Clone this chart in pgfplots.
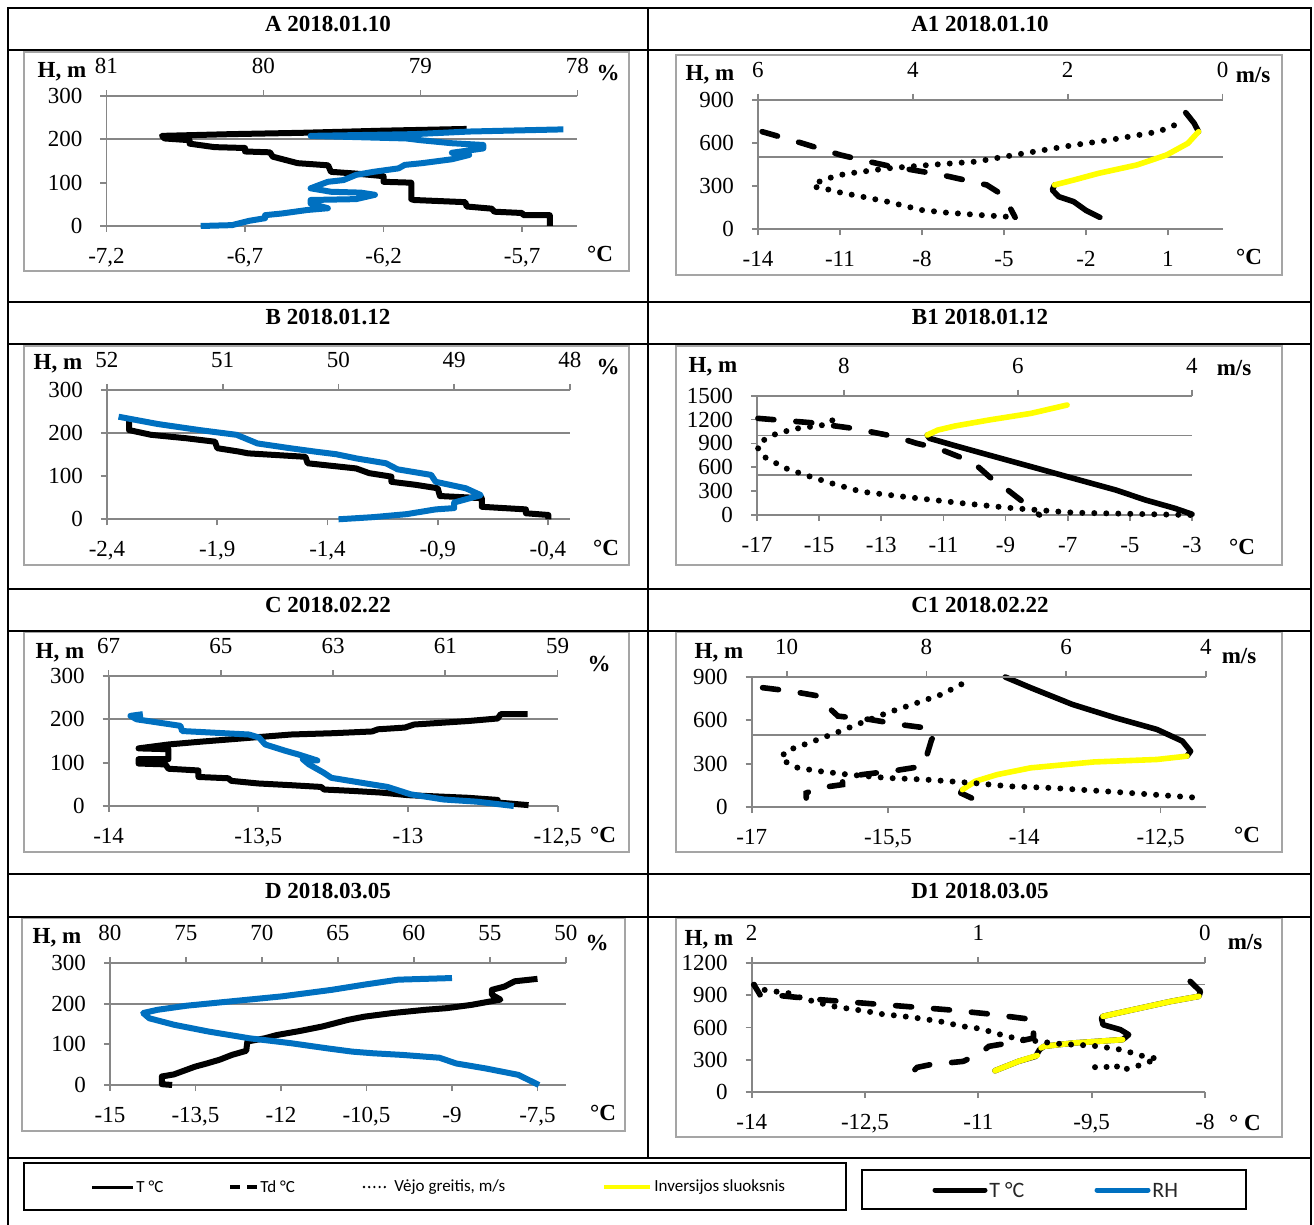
\documentclass[border=0pt]{standalone}
\usepackage{pgfplots}
\pgfplotsset{compat=1.18}
\usepackage{fontspec}
\setmainfont{Liberation Serif}
\newfontfamily\legfont{Carlito}
\definecolor{gcol}{RGB}{134,134,134}
\definecolor{fcol}{RGB}{165,165,165}
\definecolor{rhblue}{RGB}{0,112,192}
\definecolor{invy}{RGB}{255,255,0}
\pgfplotsset{
  pbase/.style={scale only axis, clip=false, anchor=south west,
    axis line style={gcol, line width=0.9pt},
    major tick style={gcol, line width=0.9pt},
    major tick length=3pt, tick align=outside,
    tick label style={font=\fontsize{11.5}{11.5}\selectfont, text=black},
    /pgf/number format/assume math mode=true,
    /pgf/number format/use comma,
    /pgf/number format/1000 sep={},
    /pgf/number format/fixed,
    scaled ticks=false,
    xticklabel shift=4.5pt, yticklabel shift=5.5pt,
  },
  pbot/.style={pbase, axis x line*=bottom, axis y line*=left},
  ptop/.style={pbase, axis x line*=top, hide y axis, ytick=\empty, x dir=reverse},
  tline/.style={black, line width=3pt, line join=round},
  rhline/.style={rhblue, line width=3pt, line join=round},
  sline/.style={black, line width=2.8pt, line join=round, line cap=round},
  dline/.style={black, line width=2.8pt, line cap=round, dash pattern=on 8pt off 11pt},
  wline/.style={black, line width=3pt, line cap=round, dash pattern=on 0pt off 6pt},
  yline/.style={invy, line width=2.8pt, line join=round, line cap=round},
  gridat/.style={extra y ticks={#1}, extra y tick labels={}, extra y tick style={grid=major, major grid style={gcol,line width=0.9pt}, major tick length=0pt}},
}
\begin{document}
\begin{tikzpicture}
\begin{scope}[x=0.5pt,y=-0.5pt]
\useasboundingbox (0,0) rectangle (1314,1225);
% chart frames
\draw[fcol, line width=1.2pt] (24,52) rectangle (629,271);
\draw[fcol, line width=1.2pt] (676,55) rectangle (1282,275);
\draw[fcol, line width=1.2pt] (24,346) rectangle (629,565);
\draw[fcol, line width=1.2pt] (676,346) rectangle (1282,565);
\draw[fcol, line width=1.2pt] (24,632) rectangle (629,852);
\draw[fcol, line width=1.2pt] (676,632) rectangle (1282,852);
\draw[fcol, line width=1.2pt] (22,918) rectangle (625,1131);
\draw[fcol, line width=1.2pt] (676,918) rectangle (1282,1137);
% table
\draw[black, line width=0.9pt] (8,1225) -- (8,8) -- (1311,8) -- (1311,1225);
\foreach \yy in {50,302,344,589,631,874,917,1158} {\draw[black, line width=0.9pt] (8,\yy) -- (1311,\yy);}
\draw[black, line width=0.9pt] (648,8) -- (648,1158);
% titles
\tikzset{ttl/.style={font=\bfseries\fontsize{11.5}{12}\selectfont}, lab/.style={font=\bfseries\fontsize{11.5}{12}\selectfont, inner sep=0pt}}
\node[ttl] at (328,24) {A 2018.01.10};
\node[ttl] at (980,24) {A1 2018.01.10};
\node[ttl] at (328,317) {B 2018.01.12};
\node[ttl] at (980,317) {B1 2018.01.12};
\node[ttl] at (328,605) {C 2018.02.22};
\node[ttl] at (980,605) {C1 2018.02.22};
\node[ttl] at (328,891) {D 2018.03.05};
\node[ttl] at (980,891) {D1 2018.03.05};
% axis name labels
\node[lab] at (62,72) {H, m};  \node[lab] at (608,73) {\%};   \node[lab] at (600,254) {°C};
\node[lab] at (710,75) {H, m}; \node[lab] at (1253,75) {m/s}; \node[lab] at (1249,257) {°C};
\node[lab] at (58,364) {H, m}; \node[lab] at (608,367) {\%};  \node[lab] at (606,548) {°C};
\node[lab] at (713,367) {H, m}; \node[lab] at (1234,368) {m/s}; \node[lab] at (1242,547) {°C};
\node[lab] at (60,653) {H, m}; \node[lab] at (599,664) {\%};  \node[lab] at (603,835) {°C};
\node[lab] at (719,653) {H, m}; \node[lab] at (1239,656) {m/s}; \node[lab] at (1247,835) {°C};
\node[lab] at (57,938) {H, m}; \node[lab] at (597,943) {\%};  \node[lab] at (603,1113) {°C};
\node[lab] at (709,940) {H, m}; \node[lab] at (1245,942) {m/s}; \node[lab] at (1245,1123) {° C};
% ---------------- Legends ----------------
\tikzset{lt/.style={anchor=west, font=\legfont\fontsize{8.5}{9}\selectfont, inner sep=1pt}}
\draw[black, line width=1pt] (24,1163) rectangle (846,1210);
\draw[black, line width=1.5pt] (92,1187) -- (133,1187);
\node[lt] at (134,1187) {T °C};
\draw[black, line width=1.6pt, dash pattern=on 5pt off 3.5pt] (230,1187) -- (257,1187);
\node[lt] at (258,1187) {Td °C};
\draw[black, line width=1.3pt, line cap=round, dash pattern=on 0pt off 2.6pt] (364,1187) -- (390,1187);
\node[lt] at (392,1187) {Vėjo greitis, m/s};
\draw[invy, line width=1.6pt] (604,1187) -- (650,1187);
\node[lt] at (652,1187) {Inversijos sluoksnis};
\draw[black, line width=1pt] (862,1170) rectangle (1246,1209);
\draw[black, line width=2.5pt, line cap=round] (935,1190) -- (985,1190);
\node[anchor=west, font=\legfont\fontsize{11}{12}\selectfont, inner sep=1pt, text=black!85] at (987,1190) {T °C};
\draw[rhblue, line width=2.5pt, line cap=round] (1097,1190) -- (1148,1190);
\node[anchor=west, font=\legfont\fontsize{11}{12}\selectfont, inner sep=1pt, text=black!85] at (1150,1190) {RH};
\end{scope}

% ---------------- Panel A ----------------
\begin{axis}[pbot, at={(53.25pt,-113pt)}, width=235.5pt, height=65pt, xmin=-7.2, xmax=-5.5, ymin=0, ymax=300,
  xtick={-7.2,-6.7,-6.2,-5.7}, ytick={0,100,200,300}, gridat=200]
\addplot[tline] coordinates {(-5.60,0) (-5.60,25) (-5.695,25) (-5.70,30) (-5.80,33) (-5.81,40) (-5.90,45) (-5.905,55) (-6.09,60) (-6.10,62) (-6.10,100) (-6.20,102) (-6.20,115) (-6.30,121) (-6.39,125) (-6.40,140) (-6.51,145) (-6.60,160) (-6.61,170) (-6.70,172) (-6.70,180) (-6.81,182) (-6.90,190) (-6.90,198) (-6.99,202) (-7.00,208) (-6.75,212) (-6.50,215) (-6.20,220) (-5.90,224)};
\end{axis}
\begin{axis}[ptop, at={(53.25pt,-113pt)}, width=235.5pt, height=65pt, xmin=78, xmax=81, ymin=0, ymax=300, xtick={78,79,80,81}]
\addplot[rhline] coordinates {(80.40,0) (80.20,2) (80.09,12) (79.99,18) (79.99,25) (79.88,29) (79.72,37) (79.59,41) (79.70,52) (79.70,60) (79.41,62) (79.29,72) (79.38,77) (79.57,79) (79.70,87) (79.59,102) (79.49,106) (79.41,118) (79.30,125) (79.14,133) (79.10,141) (78.99,145) (78.80,154) (78.69,164) (78.80,169) (78.60,179) (78.60,187) (78.80,191) (79.00,198) (79.09,202) (79.70,208) (79.04,212) (78.69,218) (78.09,223)};
\end{axis}

% ---------------- Panel A1 ----------------
\begin{axis}[pbot, at={(379pt,-114.65pt)}, width=232.3pt, height=64.8pt, xmin=-14, xmax=3, ymin=0, ymax=900,
  xtick={-14,-11,-8,-5,-2,1}, ytick={0,300,600,900}, gridat=500]
\addplot[dline] coordinates {(-13.85,678) (-12.37,597) (-10.98,516) (-10.2,481) (-9.27,442) (-7.26,377) (-5.63,308) (-5.24,261) (-4.93,204) (-4.59,83)};
\addplot[sline] coordinates {(-1.49,83) (-1.99,130) (-2.45,192) (-3.00,227) (-3.23,273) (-3.15,308)};
\addplot[sline] coordinates {(2.12,678) (1.96,736) (1.65,810)};
\addplot[yline] coordinates {(-3.15,308) (-2.45,342) (-1.53,389) (-0.13,447) (0.95,516) (1.73,597) (2.12,678)};
\end{axis}
\begin{axis}[ptop, at={(379pt,-114.65pt)}, width=232.3pt, height=64.8pt, xmin=0, xmax=6, ymin=0, ymax=900, xtick={0,2,4,6}]
\addplot[wline] coordinates {(2.80,88) (3.13,99) (3.57,116) (3.89,134) (4.33,192) (4.66,227) (4.99,261) (5.15,285) (5.29,296) (5.18,342) (4.88,384) (4.33,423) (3.78,447) (3.18,470) (2.69,516) (1.92,585) (1.46,620) (0.83,678) (0.56,736)};
\end{axis}

% ---------------- Panel B ----------------
\begin{axis}[pbot, at={(53.5pt,-259.65pt)}, width=231.5pt, height=64.65pt, xmin=-2.4, xmax=-0.3, ymin=0, ymax=300,
  xtick={-2.4,-1.9,-1.4,-0.9,-0.4}, ytick={0,100,200,300}, gridat=200]
\addplot[tline] coordinates {(-0.398,0) (-0.398,10) (-0.50,14) (-0.50,23) (-0.70,29) (-0.70,49) (-0.89,54) (-0.90,72) (-1.0,80) (-1.11,87) (-1.11,99) (-1.21,107) (-1.27,118) (-1.38,124) (-1.49,130) (-1.50,145) (-1.76,153) (-1.80,157) (-1.90,165) (-1.91,180) (-2.04,188) (-2.20,196) (-2.30,207) (-2.30,234)};
\end{axis}
\begin{axis}[ptop, at={(53.5pt,-259.65pt)}, width=231.5pt, height=64.65pt, xmin=48, xmax=52, ymin=0, ymax=300, xtick={48,49,50,51,52}]
\addplot[rhline] coordinates {(50.00,0) (49.70,5) (49.41,12) (49.16,23) (49.00,26) (49.00,39) (48.77,56) (48.90,72) (49.16,87) (49.20,103) (49.49,116) (49.59,130) (49.84,141) (50.02,151) (50.20,157) (50.42,165) (50.70,176) (50.88,196) (51.20,207) (51.56,221) (51.90,238)};
\end{axis}

% ---------------- Panel B1 ----------------
\begin{axis}[pbot, at={(378.5pt,-257.5pt)}, width=217.5pt, height=59.65pt, xmin=-17, xmax=-3, ymin=0, ymax=1500,
  xtick={-17,-15,-13,-11,-9,-7,-5,-3}, ytick={0,300,600,900,1200,1500}, gridat={500,1000}]
\addplot[dline] coordinates {(-16.97,1215) (-15.27,1161) (-13.9,1089) (-12.54,985) (-11.86,901) (-11.18,838) (-10.5,733) (-9.95,629) (-9.4,440) (-8.93,314) (-8.45,168) (-7.91,0)};
\addplot[sline] coordinates {(-3.0,10) (-3.55,84) (-4.5,189) (-5.45,314) (-6.82,461) (-8.18,608) (-9.54,754) (-10.63,872) (-11.45,964) (-11.52,1006)};
\addplot[yline] coordinates {(-11.52,1006) (-11.18,1068) (-10.63,1119) (-9.54,1194) (-8.18,1278) (-7.02,1383)};
\end{axis}
\begin{axis}[ptop, at={(378.5pt,-257.5pt)}, width=217.5pt, height=59.65pt, xmin=4, xmax=9, ymin=0, ymax=1500, xtick={4,6,8}]
\addplot[wline] coordinates {(4.02,0) (5.36,29) (6.04,84) (6.63,147) (7.31,230) (7.80,293) (8.14,398) (8.41,490) (8.67,587) (8.92,733) (9.0,859) (8.92,943) (8.77,1027) (8.53,1089) (8.38,1110) (8.24,1131) (8.14,1173) (8.09,1320)};
\end{axis}

% ---------------- Panel C ----------------
\begin{axis}[pbot, at={(54.3pt,-403pt)}, width=224.5pt, height=65pt, xmin=-14, xmax=-12.5, ymin=0, ymax=300,
  xtick={-14,-13.5,-13,-12.5}, ytick={0,100,200,300}, gridat=200]
\addplot[tline] coordinates {(-12.597,2) (-12.70,8) (-12.70,14) (-12.80,19) (-13.0,25) (-13.09,31) (-13.19,35) (-13.28,38) (-13.29,44) (-13.39,48) (-13.50,52) (-13.59,58) (-13.60,64) (-13.70,67) (-13.70,82) (-13.80,86) (-13.81,96) (-13.90,98) (-13.90,108) (-13.80,108) (-13.80,131) (-13.90,133) (-13.80,142) (-13.70,148) (-13.59,154) (-13.5,159) (-13.39,165) (-13.25,168) (-13.12,172) (-13.10,177) (-13.01,181) (-12.98,188) (-12.80,196) (-12.70,202) (-12.69,212) (-12.60,212)};
\end{axis}
\begin{axis}[ptop, at={(54.3pt,-403pt)}, width=224.5pt, height=65pt, xmin=59, xmax=67, ymin=0, ymax=300, xtick={59,61,63,65,67}]
\addplot[rhline] coordinates {(59.78,0) (60.44,10) (61.03,15) (61.62,27) (62.03,44) (62.51,54) (63.03,65) (63.17,77) (63.43,96) (63.54,108) (63.28,105) (63.62,119) (63.84,127) (64.21,142) (64.32,158) (64.50,165) (65.69,173) (65.72,185) (65.98,190) (66.50,200) (66.61,208) (66.39,212)};
\end{axis}

% ---------------- Panel C1 ----------------
\begin{axis}[pbot, at={(375.85pt,-403.5pt)}, width=227.15pt, height=65pt, xmin=-17, xmax=-12, ymin=0, ymax=900,
  xtick={-17,-15.5,-14,-12.5}, ytick={0,300,600,900}, gridat=500]
\addplot[dline] coordinates {(-16.88,826) (-16.58,803) (-16.26,768) (-16.21,722) (-16.05,629) (-15.70,606) (-15.37,571) (-15.09,548) (-14.98,502) (-15.02,467) (-15.07,363) (-15.12,282) (-15.42,252) (-15.79,224) (-16.0,201) (-16.0,155) (-16.26,132) (-16.40,97) (-16.40,62)};
\addplot[sline] coordinates {(-14.21,900) (-13.93,826) (-13.47,710) (-13.0,618) (-12.54,537) (-12.26,456) (-12.17,386) (-12.21,352)};
\addplot[sline] coordinates {(-14.68,120) (-14.70,97) (-14.58,62)};
\addplot[yline] coordinates {(-12.21,352) (-12.54,329) (-13.23,312) (-13.93,271) (-14.30,224) (-14.54,178) (-14.68,120)};
\end{axis}
\begin{axis}[ptop, at={(375.85pt,-403.5pt)}, width=227.15pt, height=65pt, xmin=4, xmax=10.5, ymin=0, ymax=900, xtick={4,6,8,10}]
\addplot[wline] coordinates {(4.2,67) (5.29,104) (6.2,132) (6.81,143) (7.35,167) (8.02,190) (8.56,201) (9.11,224) (9.53,248) (9.84,271) (10.08,329) (10.02,386) (9.68,444) (9.29,514) (8.93,583) (8.56,652) (8.2,710) (7.78,780) (7.41,872)};
\end{axis}

% ---------------- Panel D ----------------
\begin{axis}[pbot, at={(55pt,-542.5pt)}, width=228pt, height=61pt, xmin=-15, xmax=-7, ymin=0, ymax=300,
  xtick={-15,-13.5,-12,-10.5,-9,-7.5}, ytick={0,100,200,300}, gridat=200]
\addplot[tline] coordinates {(-13.91,0) (-14.09,2) (-14.09,21) (-13.88,26) (-13.51,45) (-13.30,53) (-13.08,62) (-12.86,74) (-12.61,84) (-12.59,107) (-12.28,115) (-12.07,123) (-11.70,132) (-11.27,144) (-10.83,160) (-10.54,168) (-10.04,177) (-9.46,185) (-9.09,189) (-8.66,197) (-8.15,210) (-8.30,222) (-8.30,234) (-8.08,242) (-7.90,255) (-7.5,261)};
\end{axis}
\begin{axis}[ptop, at={(55pt,-542.5pt)}, width=228pt, height=61pt, xmin=50, xmax=80, ymin=0, ymax=300, xtick={50,55,60,65,70,75,80}]
\addplot[rhline] coordinates {(51.78,0) (53.14,25) (55.32,41) (57.23,53) (58.32,67) (60.77,74) (62.68,78) (64.05,82) (65.68,90) (68.14,103) (70.86,115) (73.59,132) (75.77,148) (77.41,164) (77.82,177) (76.86,185) (74.95,195) (72.23,205) (68.68,218) (65.41,234) (63.23,247) (61.05,259) (57.5,263)};
\end{axis}

% ---------------- Panel D1 ----------------
\begin{axis}[pbot, at={(375.85pt,-546pt)}, width=226.65pt, height=64.5pt, xmin=-14, xmax=-8, ymin=0, ymax=1200,
  xtick={-14,-12.5,-11,-9.5,-8}, ytick={0,300,600,900,1200}, gridat=1000]
\addplot[dline] coordinates {(-11.84,208) (-11.81,229) (-11.64,254) (-11.2,285) (-10.97,363) (-10.86,425) (-10.47,471) (-10.27,502) (-10.27,673) (-10.86,726) (-11.42,766) (-11.98,797) (-12.54,828) (-13.1,859) (-13.66,899) (-13.89,905) (-13.97,998)};
\addplot[sline] coordinates {(-8.196,1029) (-8.06,936) (-8.08,890) (-8.45,843) (-8.95,766) (-9.35,704) (-9.37,688) (-9.35,626) (-9.12,580) (-9.01,533) (-9.09,487) (-9.74,456) (-10.13,425) (-10.19,394) (-10.24,332) (-10.47,285) (-10.78,198)};
\addplot[yline] coordinates {(-8.08,890) (-8.45,843) (-8.95,766) (-9.35,704)};
\addplot[yline] coordinates {(-9.09,487) (-9.74,456) (-10.13,425) (-10.17,410)};
\addplot[yline] coordinates {(-10.22,340) (-10.47,285) (-10.78,198)};
\end{axis}
\begin{axis}[ptop, at={(375.85pt,-546pt)}, width=226.65pt, height=64.5pt, xmin=0, xmax=2, ymin=0, ymax=1200, xtick={0,1,2}]
\addplot[wline] coordinates {(1.99,998) (1.95,952) (1.90,936) (1.84,921) (1.78,874) (1.70,828) (1.64,797) (1.59,781) (1.49,750) (1.43,726) (1.33,704) (1.27,688) (1.17,657) (1.07,611) (1.01,595) (0.95,564) (0.90,533) (0.84,502) (0.80,487) (0.73,471) (0.68,456) (0.63,446) (0.58,440) (0.52,434) (0.47,425) (0.42,409) (0.37,394) (0.32,363) (0.27,332) (0.21,310) (0.28,254) (0.33,223) (0.36,208) (0.38,248) (0.41,208) (0.44,239) (0.47,223) (0.50,239)};
\end{axis}
\end{tikzpicture}
\end{document}
